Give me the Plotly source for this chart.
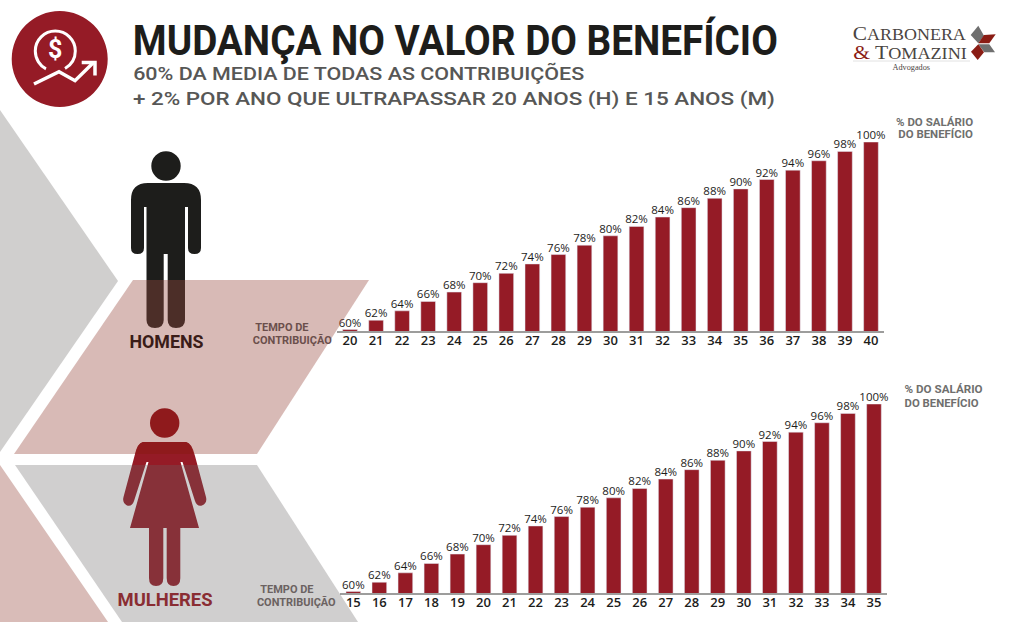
import json
import plotly.graph_objects as go

W, H = 1024, 622

# data
anos_h = [str(a) for a in range(20, 41)]
pct_h = [60, 62, 64, 66, 68, 70, 72, 74, 76, 78, 80, 82, 84, 86, 88, 90, 92, 94, 96, 98, 100]
anos_m = [str(a) for a in range(15, 36)]
pct_m = [60, 62, 64, 66, 68, 70, 72, 74, 76, 78, 80, 82, 84, 86, 88, 90, 92, 94, 96, 98, 100]

VERMELHO = '#951b26'
CONDENSADA = 'Roboto'
NUM_FONT = 'Open Sans'
SERIF = 'Liberation Serif'


# pixel helpers, the whole picture is laid out from the 1024x622 canvas
def fx(x):
    return x / W


def fy(y):
    return 1 - y / H


def path(d, fill, line=None, lw=0):
    """d uses page pixels, converted to paper coords"""
    out = []
    for tok in d.split():
        if ',' in tok:
            x, y = tok.split(',')
            out.append(f'{fx(float(x)):.5f},{fy(float(y)):.5f}')
        else:
            out.append(tok)
    return dict(type='path', xref='paper', yref='paper', path=' '.join(out),
                fillcolor=fill, line=dict(color=line or 'rgba(0,0,0,0)', width=lw), layer='above')


def circle(cx, cy, r, fill):
    return dict(type='circle', xref='paper', yref='paper', x0=fx(cx - r), x1=fx(cx + r),
                y0=fy(cy + r), y1=fy(cy - r), fillcolor=fill, line=dict(width=0), layer='above')


annotations = []
larguras = []  # target width of each text, squeezed in the browser (no condensed font installed)


def label(cx, y, text, size, color, width=None, family=CONDENSADA, weight=700):
    annotations.append(dict(xref='paper', yref='paper', x=fx(cx), y=fy(y), text=text,
                            showarrow=False, xanchor='center', yanchor='middle',
                            font=dict(family=family, size=size, color=color, weight=weight)))
    larguras.append(width)


fig = go.Figure()
fig.add_trace(go.Bar(x=anos_h, y=pct_h, xaxis='x', yaxis='y', text=[f'{p}%' for p in pct_h]))
fig.add_trace(go.Bar(x=anos_m, y=pct_m, xaxis='x2', yaxis='y2', text=[f'{p}%' for p in pct_m]))
fig.update_traces(marker_color=VERMELHO, textposition='outside', cliponaxis=False, constraintext='none',
                  textfont=dict(family=NUM_FONT, size=11.5, color='#1d1d1b', weight=500), showlegend=False)

shapes = []
# man sits below the translucent pink band
shapes.append(path('M 131,200 Q 131,183 148,183 L 184,183 Q 201,183 201,200 L 201,248 Q 201,254 194.5,254 '
                   'Q 188,254 188,248 L 188,207 L 185,207 L 185,320 Q 185,328 176,328 Q 167.7,328 167.7,320 '
                   'L 167.7,254 L 163.7,254 L 163.7,320 Q 163.7,328 155,328 Q 146.5,328 146.5,320 L 146.5,207 '
                   'L 144,207 L 144,248 Q 144,254 137.5,254 Q 131,254 131,248 Z', '#1d1d1b'))
shapes.append(circle(166, 166, 14.7, '#1d1d1b'))
# woman
shapes.append(path('M 143,442 L 186,442 Q 192,443 195,456 L 206,497 Q 207.5,503 202,505.5 Q 197,507 195,501 '
                   'L 182.5,462 L 180.5,462 L 199,528 L 130,528 L 148.5,462 L 146.5,462 L 134,501 '
                   'Q 132,507 127,505.5 Q 122,503 123.5,497 L 134.5,456 Q 137,443 143,442 Z', VERMELHO))
shapes.append(path('M 149,528 L 163.3,528 L 163.3,578 Q 163.3,586 156,586 Q 149,586 149,578 Z', VERMELHO))
shapes.append(path('M 166.7,528 L 180.3,528 L 180.3,578 Q 180.3,586 173.5,586 Q 166.7,586 166.7,578 Z', VERMELHO))

# background bands
PINK_OVER = 'rgba(153,74,63,0.38)'
GREY_OVER = 'rgba(103,100,100,0.31)'
shapes.append(path('M 0,110 L 118,281 L 0,452 Z', '#d0cfce'))
shapes.append(path('M 133,280 L 369,280 L 257,454 L 14,454 Z', PINK_OVER))
shapes.append(path('M 15,465 L 257,465 L 358,622 L 122,622 Z', GREY_OVER))
shapes.append(path('M 0,465 L 108,622 L 0,622 Z', '#d9bcb8'))
# head and shoulders of the woman over the pink band keep a stronger red
shapes.append(circle(164.7, 423, 14.7, '#8f1a1c'))
shapes.append(path('M 143,442 L 186,442 Q 191,443 193.7,454 L 135.3,454 Q 138,443 143,442 Z', '#8f1a1c'))

# money icon
shapes.append(circle(59.7, 59, 48, VERMELHO))
shapes.append(path('M 46,68.8 C 40,66 35.3,59 35.3,51 C 35.3,40 44.3,31 55.3,31 C 66.3,31 75.3,40 75.3,51 '
                   'C 75.3,58.5 71,65 65,68.5', 'rgba(0,0,0,0)', 'white', 3))
shapes.append(path('M 34,84 L 59,71.7 L 75,80.7 L 93,63', 'rgba(0,0,0,0)', 'white', 3.5))
shapes.append(path('M 81.7,62.5 L 95,62.5 L 95,75.5', 'rgba(0,0,0,0)', 'white', 3.5))

# logo mark
shapes.append(path('M 970.7,35 L 978.3,25.7 L 984,35.7 L 978.3,43.3 Z', '#6f6f6f'))
shapes.append(path('M 978.3,43.3 L 984,35 L 995.7,34.3 L 989.3,43.3 Z', '#8a1c14'))
shapes.append(path('M 978.3,44.3 L 989.3,44.3 L 995,52.3 L 984.3,52.3 Z', '#6f6f6f'))
shapes.append(path('M 971,51.7 L 978.3,44.3 L 984,52.3 L 977.7,60 Z', '#8a1c14'))
shapes.append(dict(type='line', xref='paper', yref='paper', x0=fx(853), x1=fx(970), y0=fy(61), y1=fy(61),
                   line=dict(color='#e2e2e2', width=1), layer='above'))

label(455.5, 40, 'MUDANÇA NO VALOR DO BENEFÍCIO', 42, '#1d1d1b', 645)
label(358.5, 73, '60% DA MEDIA DE TODAS AS CONTRIBUIÇÕES', 19, '#575756', 451, weight=500)
label(454, 99, '+ 2% POR ANO QUE ULTRAPASSAR 20 ANOS (H) E 15 ANOS (M)', 19, '#575756', 642, weight=500)
label(55.3, 50, '$', 25, 'white')
label(909.5, 33.5, 'C<span style="font-size:16px">ARBONERA</span>', 19, '#4a4542', 113, SERIF, 400)
label(909.8, 52, '<span style="color:#8a1c14">&amp;</span> T<span style="font-size:16px">OMAZINI</span>',
      19, '#4a4542', 113.5, SERIF, 400)
label(910.5, 67, 'Advogados', 8, '#4a4542', 37.6, SERIF, 400)
label(934.7, 122, '% DO SALÁRIO', 11.5, '#6f6f6e', 77)
label(935, 134.3, 'DO BENEFÍCIO', 11.5, '#6f6f6e', 74.6)
label(943, 389.3, '% DO SALÁRIO', 11.5, '#6f6f6e', 78)
label(941, 403.3, 'DO BENEFÍCIO', 11.5, '#6f6f6e', 74)
label(282.3, 327.3, 'TEMPO DE', 11.5, '#6b4f4c', 53.3)
label(292.8, 340, 'CONTRIBUIÇÃO', 11.5, '#6b4f4c', 79)
label(286.7, 589, 'TEMPO DE', 11.5, '#6b6261', 53.3)
label(296.7, 602, 'CONTRIBUIÇÃO', 11.5, '#6b6261', 78.7)
label(166, 342, 'HOMENS', 19, '#3a1c18', 74)
label(164.8, 599, 'MULHERES', 19, '#8a2d33', 95)

eixo_x = dict(type='category', showgrid=False, zeroline=False, showline=True, linecolor='#9d9d9c',
              linewidth=2, ticks='', ticklen=0, ticklabelstandoff=-4,
              tickfont=dict(family=NUM_FONT, size=13, color='#1d1d1b', weight=600))
eixo_y = dict(range=[59.7, 100], showgrid=False, zeroline=False, showticklabels=False, ticks='', showline=False)

fig.update_layout(
    width=W, height=H, margin=dict(l=0, r=0, t=0, b=0),
    paper_bgcolor='white', plot_bgcolor='rgba(0,0,0,0)',
    bargap=0.436, showlegend=False,
    shapes=shapes, annotations=annotations,
    xaxis=dict(eixo_x, domain=[fx(337), fx(884)], anchor='y', range=[-0.5, 20.5]),
    yaxis=dict(eixo_y, domain=[fy(331), fy(142)], anchor='x'),
    xaxis2=dict(eixo_x, domain=[fx(340.3), fx(887)], anchor='y2', range=[-0.5, 20.5]),
    yaxis2=dict(eixo_y, domain=[fy(593), fy(404)], anchor='x2'),
)

squeeze = """
document.body.style.margin='0';document.body.style.overflow='hidden';
var larguras = %s;
function aperta() {
  document.querySelectorAll('text.annotation-text').forEach(function (t, i) {
    if (larguras[i]) { t.setAttribute('textLength', larguras[i]); t.setAttribute('lengthAdjust', 'spacingAndGlyphs'); }
  });
  // bar labels sit closer to the bars than plotly's default padding
  document.querySelectorAll('text.bartext').forEach(function (t) {
    if (!t.dataset.desce) {
      t.dataset.desce = '1';
      t.setAttribute('transform', 'translate(0,3) ' + (t.getAttribute('transform') || ''));
    }
  });
}
aperta(); setTimeout(aperta, 100);
""" % json.dumps(larguras)

fig.write_html('out.html', config=dict(displayModeBar=False), post_script=squeeze)
